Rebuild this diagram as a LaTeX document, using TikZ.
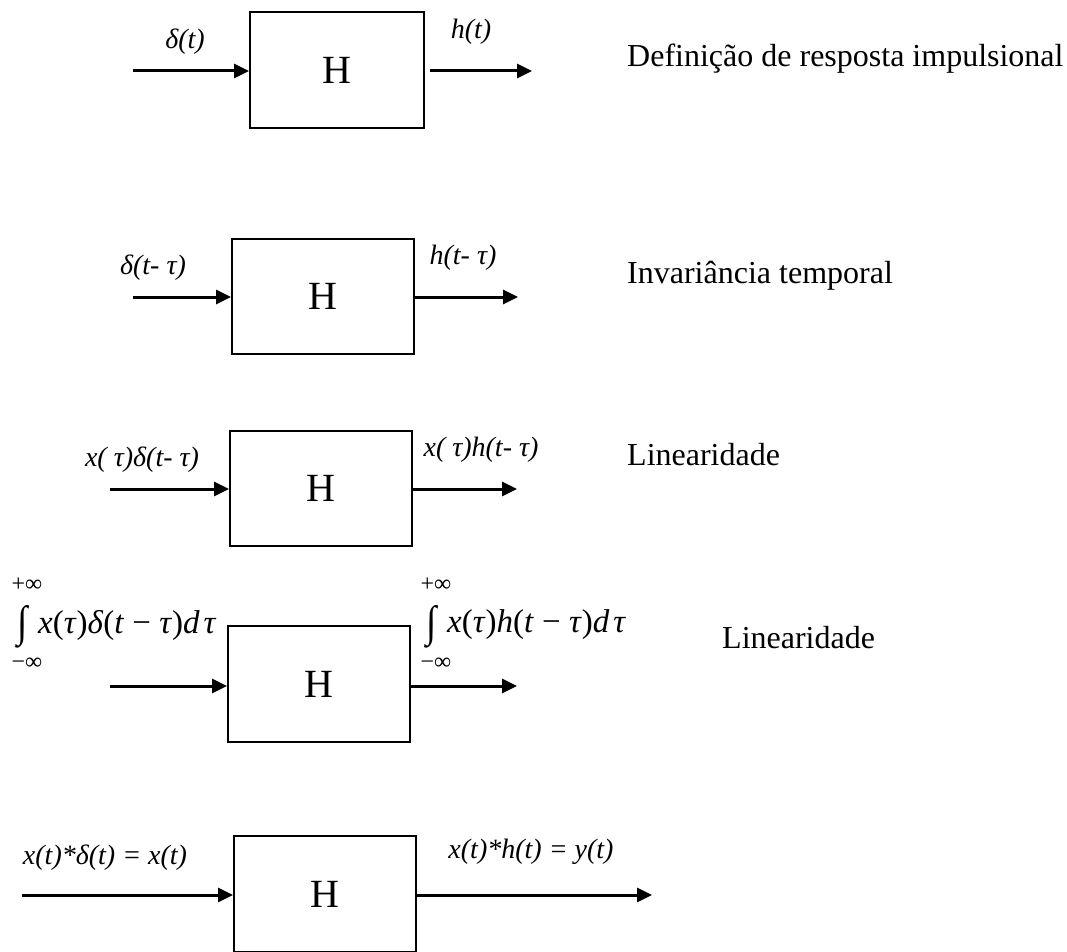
\documentclass[tikz,border=0pt]{standalone}
\usepackage{fontspec}
\usepackage{graphicx}
\setmainfont{Liberation Serif}
\usetikzlibrary{arrows.meta}
\newcommand{\tallint}{\scalebox{1.1}[1.28]{∫}}
\newcommand{\msp}{\hspace{0.25em}}
\begin{document}
\begin{tikzpicture}[x=1pt,y=-1pt,
  sysbox/.style={draw, line width=2pt, inner sep=0pt, minimum width=182pt, minimum height=116pt,
    font=\fontsize{40}{40}\selectfont},
  sig/.style={line width=3pt, -{Triangle[length=15pt,width=14pt]}},
  lbl/.style={inner sep=0pt, font=\itshape\fontsize{28}{28}\selectfont},
  expr/.style={inner sep=0pt, anchor=west, font=\itshape\fontsize{33}{33}\selectfont},
  intsign/.style={inner sep=0pt, font=\fontsize{34}{34}\selectfont},
  lim/.style={inner sep=0pt, font=\fontsize{24}{24}\selectfont},
  caption/.style={inner sep=0pt, anchor=base west, font=\fontsize{32}{32}\selectfont}]
\useasboundingbox (0,0) rectangle (1067,952);

% impulse response definition
\node[sysbox, minimum width=174pt] (b1) at (337,70) {H};
\coordinate (i1) at (133,71);
\coordinate (o1) at (532,71);
\draw[sig] (i1) -- (b1.west |- i1);
\draw[sig] ([xshift=5pt]b1.east |- o1) -- (o1);
\node[lbl] (l1a) at (185,42) {δ(t)};
\node[lbl] (l1b) at (471,32) {h(t)};
\node[caption] (c1) at (627,67) {Definição de resposta impulsional};

% time invariance
\node[sysbox, minimum height=115pt] (b2) at (323,296.5) {H};
\coordinate (i2) at (133,297);
\coordinate (o2) at (518,297);
\draw[sig] (i2) -- (b2.west |- i2);
\draw[sig] (b2.east |- o2) -- (o2);
\node[lbl] (l2a) at (153,268) {δ(t- τ)};
\node[lbl] (l2b) at (463,258) {h(t- τ)};
\node[caption] (c2) at (627,283) {Invariância temporal};

% linearity, single weighted impulse
\node[sysbox, minimum height=115pt] (b3) at (321,488.5) {H};
\coordinate (i3) at (110,489);
\coordinate (o3) at (517,489);
\draw[sig] (i3) -- (b3.west |- i3);
\draw[sig] (b3.east |- o3) -- (o3);
\node[lbl] (l3a) at (142,460) {x( τ)δ(t- τ)};
\node[lbl] (l3b) at (481,450) {x( τ)h(t- τ)};
\node[caption] (c3) at (627,465) {Linearidade};

% linearity, superposition integral
\node[sysbox] (b4) at (319,684) {H};
\coordinate (i4) at (110,686);
\coordinate (o4) at (517,686);
\draw[sig] (i4) -- (b4.west |- i4);
\draw[sig] (b4.east |- o4) -- (o4);
\node[intsign] (s4a) at (23,627) {\tallint};
\node[lim] (u4a) at (27,585) {+∞};
\node[lim] (d4a) at (27,664) {−∞};
\node[expr] (e4a) at (38,625) {x\textup{(}τ\textup{)}δ\textup{(}t\msp\textup{−}\msp τ\textup{)}d\hspace{0.12em}τ};
\node[intsign] (s4b) at (432,627) {\tallint};
\node[lim] (u4b) at (436,585) {+∞};
\node[lim] (d4b) at (436,664) {−∞};
\node[expr] (e4b) at (447,625) {x\textup{(}τ\textup{)}h\textup{(}t\msp\textup{−}\msp τ\textup{)}d\hspace{0.12em}τ};
\node[caption] (c4) at (722,648) {Linearidade};

% convolution
\node[sysbox] (b5) at (325,894) {H};
\coordinate (i5) at (22,895);
\coordinate (o5) at (652,895);
\draw[sig] (i5) -- (b5.west |- i5);
\draw[sig] (b5.east |- o5) -- (o5);
\node[lbl] (l5a) at (105,858) {x(t)*δ(t) = x(t)};
\node[lbl] (l5b) at (531,852) {x(t)*h(t) = y(t)};
\end{tikzpicture}
\end{document}
